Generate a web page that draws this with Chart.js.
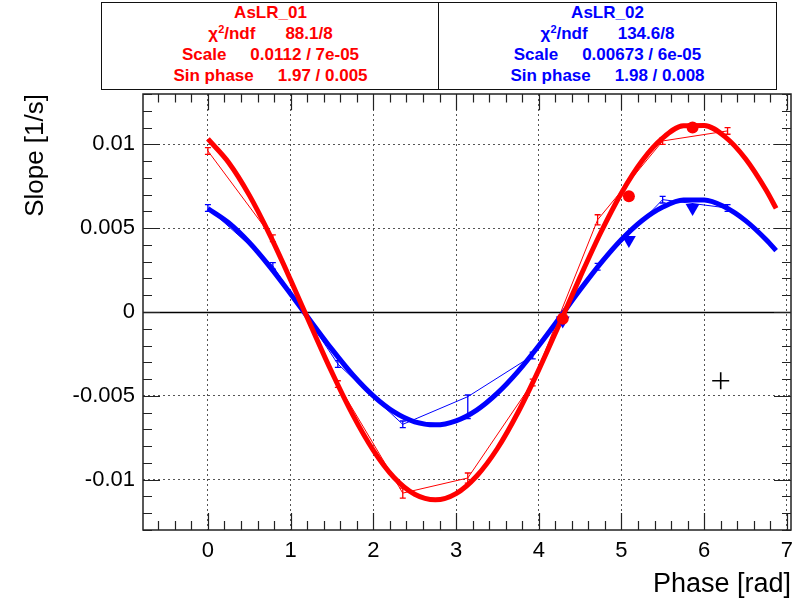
<!DOCTYPE html>
<html>
<head>
<meta charset="utf-8">
<script src="https://cdn.jsdelivr.net/npm/chart.js@4/dist/chart.umd.min.js"></script>
<style>
  html, body { margin: 0; padding: 0; background: #fff; }
  #wrap { position: relative; width: 808px; height: 606px; }
  #c { position: absolute; left: 0; top: 0; }
  .pave {
    position: absolute; top: 2px; height: 88px; box-sizing: border-box;
    border: 1.5px solid #111; background: #fff;
    font: bold 17px "Liberation Sans", Arial, Helvetica, sans-serif;
  }
  .pave div { position: absolute; left: 0; right: 0; text-align: center; height: 22px; line-height: 22px; white-space: nowrap; }
  .pave .v { margin-left: 24px; }
  .pave .v2 { margin-left: 30px; }
  .pave sup { font-size: 11px; line-height: 0; vertical-align: 6px; }
  .red { color: #ff0000; }
  .blue { color: #0000ff; }
</style>
</head>
<body>
<div id="wrap">
  <canvas id="c" width="808" height="606"></canvas>
  <div class="pave red" style="left:101px;width:339px">
    <div style="top:-1px">AsLR_01</div>
    <div style="top:20px"><span>χ<sup>2</sup>/ndf</span><span class="v2">88.1/8</span></div>
    <div style="top:41px"><span>Scale</span><span class="v">0.0112 / 7e-05</span></div>
    <div style="top:62px"><span>Sin phase</span><span class="v">1.97 / 0.005</span></div>
  </div>
  <div class="pave blue" style="left:438px;width:339px">
    <div style="top:-1px">AsLR_02</div>
    <div style="top:20px"><span>χ<sup>2</sup>/ndf</span><span class="v2">134.6/8</span></div>
    <div style="top:41px"><span>Scale</span><span class="v">0.00673 / 6e-05</span></div>
    <div style="top:62px"><span>Sin phase</span><span class="v">1.98 / 0.008</span></div>
  </div>
</div>
<script>
// axis ranges and ticks
const xMin = -0.785, xMax = 7.05;
const yMin = -0.013, yMax = 0.013;
const xTicks = [0, 1, 2, 3, 4, 5, 6, 7];
const xTickLabels = ["0", "1", "2", "3", "4", "5", "6", "7"];
const yTicks = [-0.01, -0.005, 0, 0.005, 0.01];
const yTickLabels = ["-0.01", "-0.005", "0", "0.005", "0.01"];
const xMinorStep = 0.2;
const yMinorStep = 0.001;

// measured points (thin lines with error bars)
const phase = [0, 0.785, 1.571, 2.356, 3.142, 3.927, 4.712, 5.498, 6.283];
const slope01 = [0.0096, 0.0044, -0.0043, -0.0108, -0.0099, -0.0042, 0.0055, 0.0102, 0.0108];
const err01Lo = [0.0002, 0.0002, 0.0002, 0.0003, 0.0003, 0.0002, 0.0003, 0.0002, 0.0002];
const err01Hi = [0.0002, 0.0002, 0.0002, 0.0003, 0.0003, 0.0002, 0.0003, 0.0002, 0.0002];
const slope02 = [0.0062, 0.00275, -0.0031, -0.0067, -0.00505, -0.0026, 0.0027, 0.0067, 0.0062];
const err02Lo = [0.0002, 0.0002, 0.0002, 0.0002, 0.0013, 0.0002, 0.0002, 0.0002, 0.0002];
const err02Hi = [0.0002, 0.0002, 0.0002, 0.0002, 0.0001, 0.0002, 0.0002, 0.0002, 0.0002];

// fitted curves
const fitPhase = [0, 0.25, 0.5, 0.75, 1, 1.25, 1.5, 1.75, 2, 2.25, 2.5, 2.75, 3, 3.25, 3.5,
                  3.75, 4, 4.25, 4.5, 4.75, 5, 5.25, 5.5, 5.75, 6, 6.25, 6.5, 6.75, 6.87];
const fit01 = [0.01032, 0.00892, 0.00697, 0.00458, 0.00191, -0.00088, -0.00361, -0.00612, -0.00825,
               -0.00987, -0.01087, -0.0112, -0.01083, -0.00978, -0.00814, -0.00598, -0.00345, -0.00071,
               0.00208, 0.00474, 0.0071, 0.00902, 0.01038, 0.0111, 0.01112, 0.01046, 0.00914, 0.00726, 0.00618];
const fit02 = [0.00617, 0.00532, 0.00414, 0.00269, 0.00108, -0.00059, -0.00223, -0.00374, -0.005,
               -0.00596, -0.00655, -0.00673, -0.00649, -0.00585, -0.00484, -0.00354, -0.00201, -0.00036,
               0.00132, 0.00291, 0.00432, 0.00546, 0.00626, 0.00668, 0.00668, 0.00626, 0.00545, 0.00431, 0.00366];

// big markers
const markPhase = [4.29, 5.09, 5.86];
const mark01 = [-0.0004, 0.0069, 0.011];
const mark02 = [-0.0005, 0.0043, 0.0062];
const crossPhase = [6.2];
const crossSlope = [-0.0041];

const FONT = '"Liberation Sans", Arial, Helvetica, sans-serif';
const RED = "#ff0000";
const BLUE = "#0000ff";

const pts = (xs, ys) => xs.map((x, i) => ({ x: x, y: ys[i] }));

/**
 * error bars with small caps, drawn right after their dataset
 */
const errorBars = {
    id: "errorBars",
    afterDatasetDraw(chart, args) {
        const ds = chart.data.datasets[args.index];
        if (!ds.errLo) return;
        const y = chart.scales.y;
        const ctx = chart.ctx;
        ctx.save();
        ctx.strokeStyle = ds.borderColor;
        ctx.lineWidth = 1.3;
        args.meta.data.forEach((p, i) => {
            const v = ds.data[i].y;
            const top = y.getPixelForValue(v + ds.errHi[i]);
            const bot = y.getPixelForValue(v - ds.errLo[i]);
            ctx.beginPath();
            ctx.moveTo(p.x, top); ctx.lineTo(p.x, bot);
            ctx.moveTo(p.x - 3, top); ctx.lineTo(p.x + 3, top);
            ctx.moveTo(p.x - 3, bot); ctx.lineTo(p.x + 3, bot);
            ctx.stroke();
        });
        ctx.restore();
    }
};

/**
 * ROOT style frame: zero line, inner ticks on all four sides
 */
const rootFrame = {
    id: "rootFrame",
    beforeDatasetsDraw(chart) {
        const { ctx, chartArea: a, scales: { y } } = chart;
        const y0 = Math.round(y.getPixelForValue(0)) + 0.5;
        ctx.save();
        ctx.strokeStyle = "#000";
        ctx.lineWidth = 1.5;
        ctx.beginPath();
        ctx.moveTo(a.left, y0);
        ctx.lineTo(a.right, y0);
        ctx.stroke();
        ctx.restore();
    },
    afterDraw(chart) {
        const { ctx, chartArea: a, scales: { x, y } } = chart;
        ctx.save();
        ctx.strokeStyle = "#222";
        ctx.lineWidth = 1.5;
        ctx.strokeRect(a.left, a.top, a.right - a.left, a.bottom - a.top);
        ctx.lineWidth = 1.2;
        ctx.beginPath();
        const majorLen = 17, minorLen = 9;
        // x ticks
        for (let k = Math.ceil(xMin / xMinorStep); k * xMinorStep <= xMax; k++) {
            const v = k * xMinorStep;
            const major = Math.abs(v - Math.round(v)) < 1e-6;
            const len = major ? majorLen : minorLen;
            const px = Math.round(x.getPixelForValue(v)) + 0.5;
            ctx.moveTo(px, a.bottom); ctx.lineTo(px, a.bottom - len);
            ctx.moveTo(px, a.top); ctx.lineTo(px, a.top + len * 0.95);
        }
        // y ticks
        for (let k = Math.ceil(yMin / yMinorStep); k * yMinorStep <= yMax + 1e-9; k++) {
            const major = k % 5 === 0;
            const len = major ? majorLen : minorLen;
            const py = Math.round(y.getPixelForValue(k * yMinorStep)) + 0.5;
            ctx.moveTo(a.left, py); ctx.lineTo(a.left + len, py);
            ctx.moveTo(a.right, py); ctx.lineTo(a.right - len, py);
        }
        ctx.stroke();
        ctx.restore();
    }
};

Chart.defaults.font.family = FONT;
Chart.defaults.color = "#000";

new Chart(document.getElementById("c"), {
    type: "scatter",
    data: {
        datasets: [
            {
                data: pts(phase, slope01), errLo: err01Lo, errHi: err01Hi,
                showLine: true, borderColor: RED, borderWidth: 1, pointRadius: 0, order: 6
            },
            {
                data: pts(phase, slope02), errLo: err02Lo, errHi: err02Hi,
                showLine: true, borderColor: BLUE, borderWidth: 1, pointRadius: 0, order: 5
            },
            {
                data: pts(fitPhase, fit02), showLine: true, borderColor: BLUE, borderWidth: 5,
                pointRadius: 0, cubicInterpolationMode: "monotone", order: 4
            },
            {
                data: pts(fitPhase, fit01), showLine: true, borderColor: RED, borderWidth: 5,
                pointRadius: 0, cubicInterpolationMode: "monotone", order: 3
            },
            {
                data: pts(markPhase, mark01), showLine: false, pointStyle: "circle", pointRadius: 6,
                backgroundColor: RED, borderColor: RED, borderWidth: 0, order: 2
            },
            {
                data: pts(markPhase, mark02), showLine: false, pointStyle: "triangle", rotation: 180,
                pointRadius: 8, backgroundColor: BLUE, borderColor: BLUE, borderWidth: 0, order: 2
            },
            {
                data: pts(crossPhase, crossSlope), showLine: false, pointStyle: "cross", pointRadius: 8.5,
                borderColor: "#000", borderWidth: 1.6, order: 1
            }
        ]
    },
    options: {
        responsive: false,
        animation: false,
        layout: { padding: { top: 94, right: 17, left: 0, bottom: 0 } },
        plugins: { legend: { display: false }, tooltip: { enabled: false } },
        scales: {
            x: {
                type: "linear", min: xMin, max: xMax,
                afterBuildTicks: s => { s.ticks = xTicks.map(v => ({ value: v })); },
                afterFit: s => { s.height = 76; },
                ticks: {
                    callback: (v, i) => xTickLabels[i],
                    font: { size: 22 }, color: "#000", padding: 8, maxRotation: 0
                },
                grid: { drawTicks: false, color: "#555", lineWidth: 1 },
                border: { display: false, dash: [2, 3] },
                title: {
                    display: true, text: "Phase [rad]", align: "end", color: "#000",
                    font: { size: 27 }, padding: { top: 0, bottom: 5 }
                }
            },
            y: {
                type: "linear", min: yMin, max: yMax,
                afterBuildTicks: s => { s.ticks = yTicks.map(v => ({ value: v })); },
                afterFit: s => { s.width = 143; },
                ticks: {
                    callback: (v, i) => yTickLabels[i],
                    font: { size: 22 }, color: "#000", padding: 8
                },
                grid: {
                    drawTicks: false, lineWidth: 1,
                    color: c => (c.tick && c.tick.value === 0 ? "rgba(0,0,0,0)" : "#555")
                },
                border: { display: false, dash: [2, 3] },
                title: {
                    display: true, text: "Slope [1/s]", align: "end", color: "#000",
                    font: { size: 26 }, padding: { top: 20, bottom: 0 }
                }
            }
        }
    },
    plugins: [errorBars, rootFrame]
});
</script>
</body>
</html>
